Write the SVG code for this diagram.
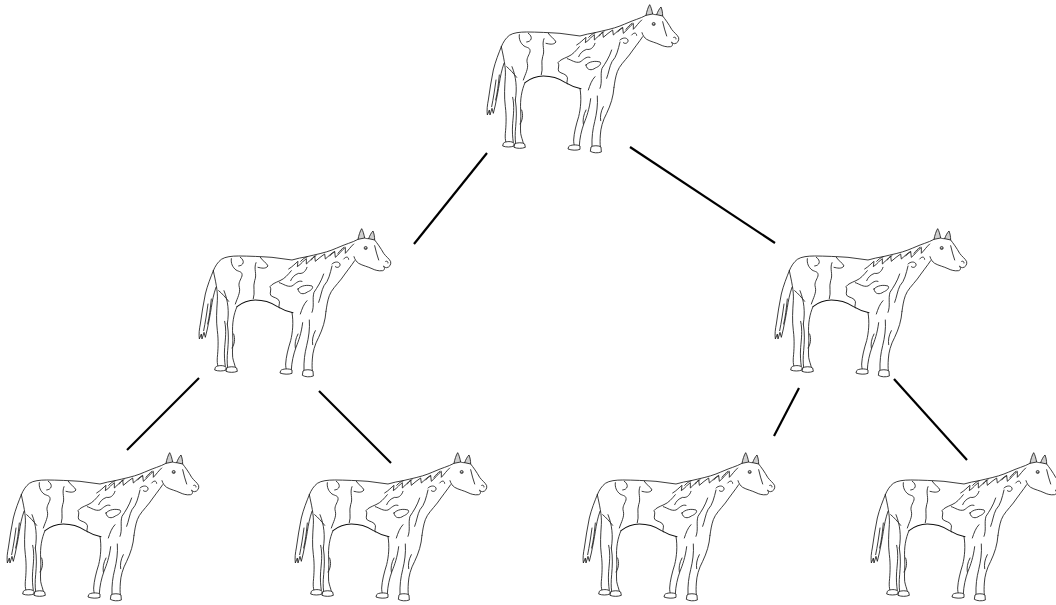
<svg xmlns="http://www.w3.org/2000/svg" xmlns:xlink="http://www.w3.org/1999/xlink" width="1056" height="605" viewBox="0 0 1056 605">
<style>
.h{fill:none;stroke:#1e1e1e;stroke-width:2.6;stroke-linejoin:round;stroke-linecap:round}
.hb{fill:none;stroke:#111;stroke-width:3.2;stroke-linejoin:round;stroke-linecap:round}
.hf{fill:#fff;stroke:#1e1e1e;stroke-width:2.6;stroke-linejoin:round}
.ear{fill:#cfcfcf;stroke:#1e1e1e;stroke-width:2.6;stroke-linejoin:round}
.edge{stroke:#000;stroke-width:2.2;stroke-linecap:butt;fill:none}
</style>
<defs>
<g id="horse" transform="translate(480,0) scale(0.33333)">
  <!-- ears -->
  <path class="ear" d="M498,46 C500,35 504,22 509,14 C513,20 516,32 518,42 Z"/>
  <path class="ear" d="M530,44 C533,35 538,26 543,21 C546,28 548,38 548,48 Z"/>
  <!-- head -->
  <path class="h" d="M518,42 C522,44 526,44 530,44"/>
  <path class="h" d="M548,48 C556,58 566,72 575,88 C582,98 592,104 596,113 C598,122 592,130 584,131 C580,131 577,129 575,127 M575,127 C578,132 580,137 572,140 C560,142 548,138 540,134 C528,128 512,125 500,118 C494,114 488,106 486,98"/>
  <path class="h" d="M581,112 C585,110 589,113 588,117"/>
  <path class="h" d="M548,65 C552,80 555,95 560,108"/>
  <circle cx="521" cy="72" r="4.5" fill="#fff" stroke="#1e1e1e" stroke-width="2.6"/>
  <circle cx="522" cy="73" r="2.2" fill="#1e1e1e"/>
  <!-- crest and back -->
  <path class="h" d="M498,46 C490,50 480,55 470,58 C455,63 440,70 420,78 C400,86 370,92 345,98 C330,100 315,104 300,108 C280,106 260,102 240,100 C210,98 170,96 140,96 C120,96 100,98 88,106 C78,114 70,125 64,140"/>
  <!-- mane -->
  <path class="h" d="M290,135 C302,128 310,118 318,112 L316,128 C328,120 336,108 343,104 L343,120 C353,112 360,102 368,96 L370,112 C380,104 388,96 398,90 L400,105 C408,98 418,88 428,82 L430,100 C440,92 450,78 460,70 L460,88 C468,80 476,68 485,60"/>
  <path class="h" d="M326,112 C332,106 338,100 346,98 M358,108 C362,102 366,98 372,95 M413,96 C418,90 423,86 428,84 M438,88 C444,80 450,74 456,70"/>
  <path class="h" d="M420,120 C428,112 440,112 444,120 C446,128 436,134 430,128 M455,105 C462,96 470,98 470,106"/>
  <!-- throat / chest -->
  <path class="h" d="M488,110 C478,125 462,145 448,165 C432,185 418,198 412,215 C406,232 404,248 402,262"/>
  <!-- far front leg -->
  <path class="h" d="M300,266 C305,295 302,325 296,350 C288,375 282,400 281,420 C281,428 282,433 283,437"/>
  <path class="h" d="M332,296 C328,328 320,350 312,370 C304,392 299,415 298,437"/>
  <path class="hf" d="M266,440 C270,434 292,433 300,438 L300,448 C290,452 275,451 264,447 Z"/>
  <!-- near front leg -->
  <path class="h" d="M402,262 C400,290 392,315 380,340 C368,362 362,385 361,405 C360,420 360,432 361,440"/>
  <path class="h" d="M352,288 C354,315 350,340 344,365 C338,390 335,410 336,440"/>
  <path class="hf" d="M333,441 C337,436 358,436 363,441 L364,456 C352,460 340,459 331,454 Z"/>
  <!-- belly -->
  <path class="hb" d="M303,266 C285,262 268,255 255,247 C238,236 215,228 190,228 C170,228 150,236 135,248"/>
  <!-- far hind leg -->
  <path class="h" d="M64,140 C70,170 78,200 76,230 C74,260 72,290 76,320 C80,350 78,380 76,400 C75,412 76,420 78,428"/>
  <path class="h" d="M98,292 C104,320 100,345 98,370 C96,395 98,412 100,428"/>
  <path class="hf" d="M70,430 C76,423 98,423 102,430 L102,438 C92,442 78,442 68,438 Z"/>
  <!-- near hind leg -->
  <path class="h" d="M135,248 C125,270 120,300 122,330 C124,355 120,380 122,400 C124,412 128,420 130,430"/>
  <path class="h" d="M106,300 C111,330 109,355 107,380 C105,400 105,415 107,431"/>
  <path class="hf" d="M104,432 C110,427 128,427 134,432 L136,442 C126,446 112,446 102,442 Z"/>
  <path class="h" d="M96,200 C108,230 112,262 106,300"/>
  <!-- tail -->
  <path class="h" d="M64,140 C56,160 46,185 40,210 C34,240 29,270 25,300 C22,315 20,330 22,345 L28,330 L30,345 L36,325 L40,340 L46,315 C50,295 55,270 58,250 C61,230 65,210 72,190"/>
  <path class="h" d="M48,240 C44,270 40,295 35,320 M58,225 C55,255 52,280 47,300"/>
  <!-- patches -->
  <path class="h" d="M118,104 C116,118 122,130 132,138 C142,144 152,142 150,156 C146,168 138,176 142,190 C146,205 136,222 130,240"/>
  <path class="h" d="M145,100 C160,110 155,125 140,126"/>
  <path class="h" d="M192,116 C184,135 196,150 188,170 C182,188 190,205 184,224"/>
  <path class="h" d="M205,100 C212,112 224,116 228,126 C220,136 208,132 198,130"/>
  <path class="h" d="M298,140 C288,152 278,164 264,170 C250,176 240,180 234,188 C240,196 232,206 236,214 C244,222 258,220 262,232 C264,240 258,246 262,252"/>
  <path class="h" d="M262,176 C275,180 286,190 300,186 C310,180 318,168 330,172"/>
  <path class="h" d="M318,195 C328,184 345,182 360,186 C366,192 356,200 346,204 C336,212 320,212 318,195 Z"/>
  <path class="h" d="M420,126 C414,150 410,170 396,185 C388,200 386,220 380,235"/>
  <path class="h" d="M345,130 C340,145 330,150 320,148 C308,152 300,160 296,170"/>
  <path class="h" d="M395,150 C388,172 376,190 366,205 C360,225 368,245 360,265"/>
  <path class="h" d="M345,230 C335,240 330,255 325,270"/>
  <path class="h" d="M80,200 C92,210 100,220 110,232"/>
  <path class="h" d="M125,330 C130,345 128,360 120,372 M318,330 C310,345 308,360 310,372 M370,320 C362,335 360,350 362,362"/>
</g>
</defs>
<g id="edges">
  <line class="edge" x1="487" y1="153" x2="414" y2="244"/>
  <line class="edge" x1="630" y1="147" x2="775" y2="243"/>
  <line class="edge" x1="199" y1="378" x2="127" y2="450"/>
  <line class="edge" x1="319" y1="391" x2="391" y2="463"/>
  <line class="edge" x1="799" y1="388" x2="774" y2="436"/>
  <line class="edge" x1="894" y1="379" x2="967" y2="460"/>
</g>
<g id="node-root"><use xlink:href="#horse"/></g>
<g id="node-left"><use xlink:href="#horse" x="-288" y="224"/></g>
<g id="node-right"><use xlink:href="#horse" x="288" y="224"/></g>
<g id="node-ll"><use xlink:href="#horse" x="-480" y="448"/></g>
<g id="node-lr"><use xlink:href="#horse" x="-192" y="448"/></g>
<g id="node-rl"><use xlink:href="#horse" x="96" y="448"/></g>
<g id="node-rr"><use xlink:href="#horse" x="384" y="448"/></g>
</svg>
